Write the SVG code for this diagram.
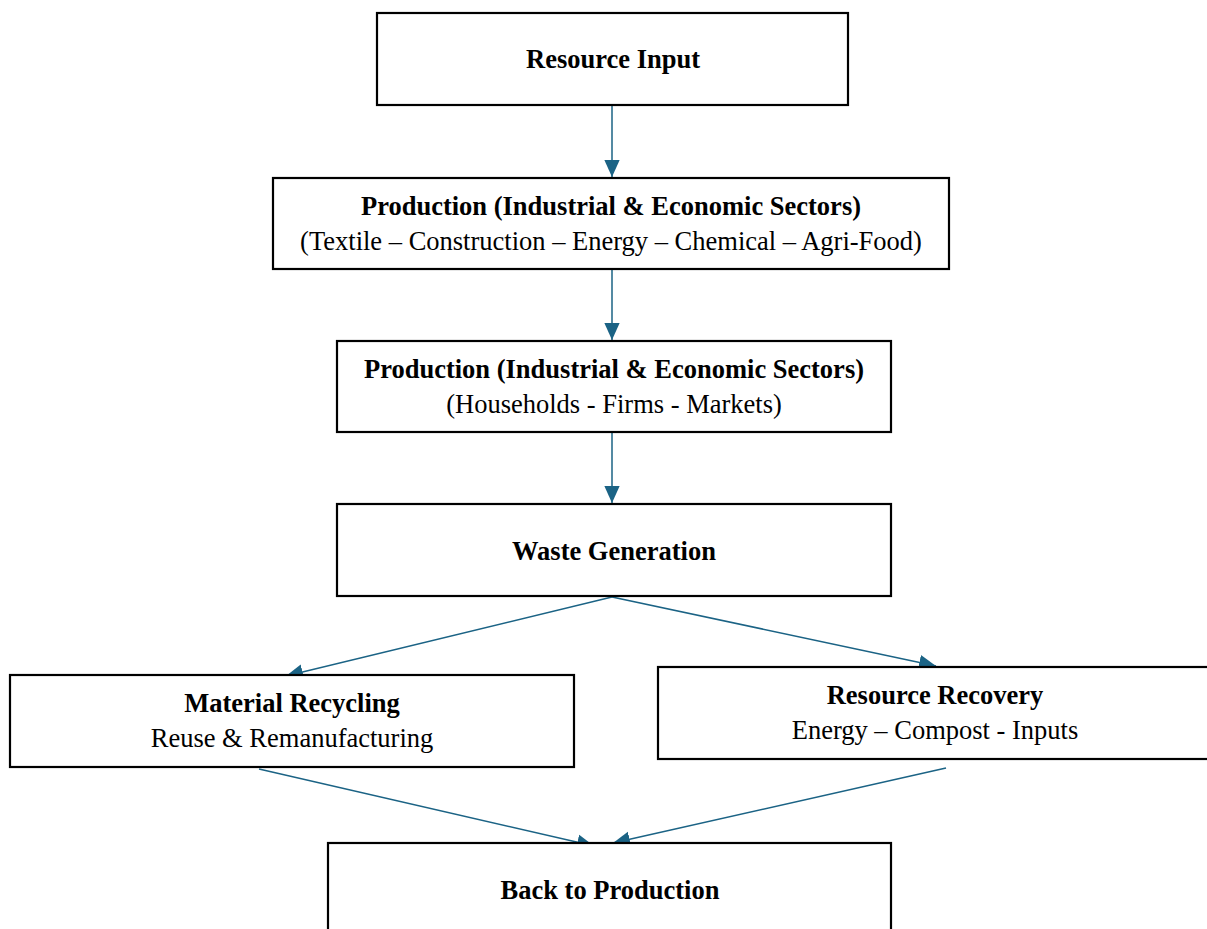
<svg xmlns="http://www.w3.org/2000/svg" width="1207" height="929" viewBox="0 0 1207 929">
<style>
.box{fill:#fff;stroke:#000;stroke-width:2.2}
.t{font-family:"Liberation Serif","Times New Roman",serif;font-size:26.5px;text-anchor:middle;fill:#000}
.b{font-weight:bold}
.c{stroke:#1b6385;stroke-width:1.5;fill:none}
</style>
<defs>
<marker id="ah2" viewBox="0 0 10 10" refX="10" refY="5" markerWidth="17" markerHeight="17" markerUnits="userSpaceOnUse" orient="auto">
<path d="M0,0.5 L10,5 L0,9.5 z" fill="#1b6385"/>
</marker>
</defs>
<rect width="1207" height="929" fill="#fff"/>
<g id="connectors">
<line class="c" x1="612" y1="105" x2="612" y2="177" marker-end="url(#ah2)"/>
<line class="c" x1="612" y1="269" x2="612" y2="340" marker-end="url(#ah2)"/>
<line class="c" x1="612" y1="432" x2="612" y2="503" marker-end="url(#ah2)"/>
<line class="c" x1="612" y1="597" x2="286" y2="676" marker-end="url(#ah2)"/>
<line class="c" x1="612" y1="597" x2="936" y2="666" marker-end="url(#ah2)"/>
<line class="c" x1="259" y1="769" x2="594" y2="846" marker-end="url(#ah2)"/>
<line class="c" x1="946" y1="768" x2="613" y2="843" marker-end="url(#ah2)"/>
</g>
<g id="resource-input">
<rect class="box" x="377" y="13" width="471" height="92"/>
<text class="t b" x="613" y="68">Resource Input</text>
</g>
<g id="production-sectors">
<rect class="box" x="273" y="178" width="676" height="91"/>
<text class="t b" x="611" y="215">Production (Industrial &amp; Economic Sectors)</text>
<text class="t" x="611" y="250">(Textile – Construction – Energy – Chemical – Agri-Food)</text>
</g>
<g id="production-households">
<rect class="box" x="337" y="341" width="554" height="91"/>
<text class="t b" x="614" y="378">Production (Industrial &amp; Economic Sectors)</text>
<text class="t" x="614" y="413">(Households - Firms - Markets)</text>
</g>
<g id="waste-generation">
<rect class="box" x="337" y="504" width="554" height="92"/>
<text class="t b" x="614" y="560">Waste Generation</text>
</g>
<g id="material-recycling">
<rect class="box" x="10" y="675" width="564" height="92"/>
<text class="t b" x="292" y="712">Material Recycling</text>
<text class="t" x="292" y="747">Reuse &amp; Remanufacturing</text>
</g>
<g id="resource-recovery">
<rect class="box" x="658" y="667" width="560" height="92"/>
<text class="t b" x="935" y="704">Resource Recovery</text>
<text class="t" x="935" y="739">Energy – Compost - Inputs</text>
</g>
<g id="back-to-production">
<rect class="box" x="328" y="843" width="563" height="100"/>
<text class="t b" x="610" y="899">Back to Production</text>
</g>
</svg>
